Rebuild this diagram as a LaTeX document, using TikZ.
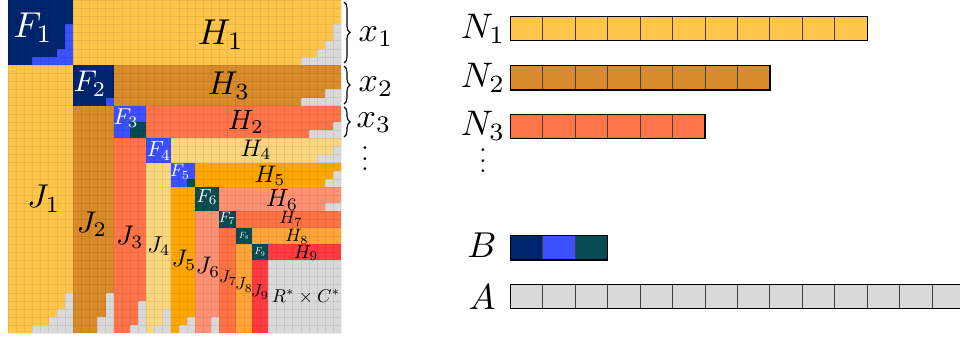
\documentclass[tikz,border=0pt]{standalone}
\usetikzlibrary{decorations.pathreplacing}
\definecolor{cnavy}{HTML}{00246E}
\definecolor{cblue}{HTML}{3D50FF}
\definecolor{cteal}{HTML}{064C52}
\definecolor{cgrey}{HTML}{D9D9D9}
\definecolor{c1}{HTML}{FFC64B}
\definecolor{c2}{HTML}{D98B2B}
\definecolor{c3}{HTML}{FF7449}
\definecolor{c4}{HTML}{F8D77F}
\definecolor{c5}{HTML}{FFA500}
\definecolor{c6}{HTML}{FF9274}
\definecolor{c7}{HTML}{FF7243}
\definecolor{c8}{HTML}{FFA438}
\definecolor{c9}{HTML}{FF3B42}
\begin{document}
\begin{tikzpicture}[x=1pt,y=-1pt,
  lab/.style={inner sep=0pt},
  wlab/.style={lab,text=white},
  gridline/.style={black,opacity=0.07,line width=0.6pt},
  barcell/.style={draw=black!75,line width=0.9pt},
  barframe/.style={draw=black,line width=1.4pt},
  bracestyle/.style={decorate,decoration={brace,amplitude=6pt},line width=1.1pt},
  dotsstyle/.style={inner sep=0pt,scale=2.6}]
\useasboundingbox (0,0) rectangle (960,339);
% ---------------- matrix ----------------
\begin{scope}[shift={(8,0)},x=8.134pt,y=-8.134pt]
  \fill[cgrey] (0,0) rectangle (41,41);
  \foreach \i/\a/\b in {1/0/8,2/8/13,3/13/17,4/17/20,5/20/23,6/23/26,7/26/28,8/28/30,9/30/32}{
    \fill[c\i] (\b,\a) rectangle (41,\b);
    \fill[c\i] (\a,\b) rectangle (\b,41);
  }
  \foreach \a/\b/\c in {0/8/cnavy,8/13/cnavy,13/17/cblue,17/20/cblue,20/23/cblue,23/26/cteal,26/28/cteal,28/30/cteal,30/32/cteal}{
    \fill[\c] (\a,\a) rectangle (\b,\b);
  }
  \foreach \r/\c in {3/40,4/40,5/39,6/38,7/36,11/39,12/36,15/40,16/37,18/40,19/38,21/40,22/39,25/39}{
    \fill[cgrey] (\c,\r) rectangle (41,\r+1);
    \fill[cgrey] (\r,\c) rectangle (\r+1,41);
  }
  \fill[cblue] (7,3) rectangle (8,8);
  \fill[cblue] (6,6) rectangle (7,8);
  \fill[cblue] (3,7) rectangle (6,8);
  \fill[cblue] (12,12) rectangle (13,13);
  \fill[cteal] (15,15) rectangle (17,17);
  \fill[cteal] (22,22) rectangle (23,23);
  \foreach \k in {0,...,41}{
    \draw[gridline] (\k,0) -- (\k,41);
    \draw[gridline] (0,\k) -- (41,\k);
  }
\end{scope}
% labels in matrix
\node[wlab,scale=3.6] (F1) at (33,28) {$F_1$};
\node[wlab,scale=3.0] (F2) at (90,84) {$F_2$};
\node[wlab,scale=2.3] (F3) at (126,118) {$F_3$};
\node[wlab,scale=2.2] (F4) at (159,151) {$F_4$};
\node[wlab,scale=1.8] (F5) at (180,172) {$F_5$};
\node[wlab,scale=1.9] (F6) at (207,197) {$F_6$};
\node[wlab,scale=1.5] (F7) at (227,218) {$F_7$};
\node[wlab,scale=0.9] (F8) at (244,236) {$F_8$};
\node[wlab,scale=1.0] (F9) at (260,252) {$F_9$};
\node[lab,scale=3.6] (H1) at (221,35) {$H_1$};
\node[lab,scale=3.3] (H3) at (229,86) {$H_3$};
\node[lab,scale=2.8] (H2) at (246,122) {$H_2$};
\node[lab,scale=2.4] (H4) at (256,150) {$H_4$};
\node[lab,scale=2.4] (H5) at (270,176) {$H_5$};
\node[lab,scale=2.5] (H6) at (282,200) {$H_6$};
\node[lab,scale=1.8] (H7) at (291,219) {$H_7$};
\node[lab,scale=1.8] (H8) at (297,237) {$H_8$};
\node[lab,scale=1.9] (H9) at (306,253) {$H_9$};
\node[lab,scale=3.3] (J1) at (44,199) {$J_1$};
\node[lab,scale=3.0] (J2) at (92,224) {$J_2$};
\node[lab,scale=2.7] (J3) at (130,237) {$J_3$};
\node[lab,scale=2.3] (J4) at (159,246) {$J_4$};
\node[lab,scale=2.4] (J5) at (184,260) {$J_5$};
\node[lab,scale=2.4] (J6) at (208,267) {$J_6$};
\node[lab,scale=1.75] (J7) at (228,278) {$J_7$};
\node[lab,scale=1.75] (J8) at (244,285) {$J_8$};
\node[lab,scale=1.75] (J9) at (260,292) {$J_9$};
\node[lab,scale=1.85] (RC) at (306,297) {$R^*\times C^*$};
% braces
\coordinate (b1t) at (344,2);  \coordinate (b1b) at (344,63);
\coordinate (b2t) at (344,66); \coordinate (b2b) at (344,104);
\coordinate (b3t) at (344,107);\coordinate (b3b) at (344,137);
\draw[bracestyle] (b1t) -- (b1b);
\draw[bracestyle] (b2t) -- (b2b);
\draw[bracestyle] (b3t) -- (b3b);
\node[lab,scale=3.4] (x1) at (376,37) {$x_1$};
\node[lab,scale=3.4] (x2) at (376,87) {$x_2$};
\node[lab,scale=3.4] (x3) at (374,123) {$x_3$};
\node[dotsstyle] (vdl) at (365,151) {$\vdots$};
% ---------------- bars ----------------
\foreach \y/\n/\c in {16.5/11/c1,65.8/8/c2,114.3/6/c3,284.3/14/cgrey}{
  \foreach \k in {1,...,\n}{
    \fill[\c] ({510.3+(\k-1)*32.45},\y) rectangle +(32.45,24.3);
    \draw[barcell] ({510.3+(\k-1)*32.45},\y) rectangle +(32.45,24.3);
  }
  \draw[barframe] (510.3,\y) rectangle ({510.3+\n*32.45},\y+24.3);
}
\foreach \k/\c in {1/cnavy,2/cblue,3/cteal}{
  \fill[\c] ({510.3+(\k-1)*32.45},235.7) rectangle +(32.45,24.3);
  \draw[barcell] ({510.3+(\k-1)*32.45},235.7) rectangle +(32.45,24.3);
}
\draw[barframe] (510.3,235.7) rectangle ({510.3+3*32.45},260);
\node[lab,scale=3.55] (N1) at (483,29) {$N_1$};
\node[lab,scale=3.55] (N2) at (483,78) {$N_2$};
\node[lab,scale=3.55] (N3) at (483,126) {$N_3$};
\node[dotsstyle] (vdr) at (483,153) {$\vdots$};
\node[lab,scale=3.6] (B) at (482,245) {$B$};
\node[lab,scale=3.6] (A) at (482,297) {$A$};
\end{tikzpicture}
\end{document}
